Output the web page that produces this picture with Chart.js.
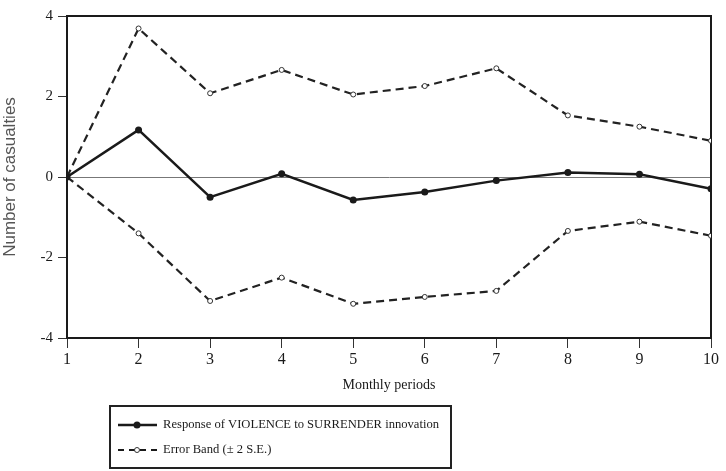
<!DOCTYPE html>
<html>
<head>
<meta charset="utf-8">
<script src="https://cdn.jsdelivr.net/npm/chart.js@4/dist/chart.umd.min.js"></script>
<style>
  body { margin: 0; background: #fff; }
  canvas { display: block; }
</style>
</head>
<body>
<canvas id="irf" width="726" height="471"></canvas>
<script>
// values
const periods = [1, 2, 3, 4, 5, 6, 7, 8, 9, 10];
const response = [0, 1.17, -0.50, 0.08, -0.57, -0.37, -0.09, 0.11, 0.07, -0.29];
const upperBand = [0, 3.69, 2.08, 2.66, 2.05, 2.26, 2.70, 1.53, 1.25, 0.90];
const lowerBand = [0, -1.40, -3.08, -2.50, -3.15, -2.98, -2.83, -1.34, -1.11, -1.46];
const yTicks = [-4, -2, 0, 2, 4];
const legendLabels = ['Response of VIOLENCE to SURRENDER innovation', 'Error Band (\u00b1 2 S.E.)'];

const serif = '"Liberation Serif", "Times New Roman", serif';
const ink = '#1a1a1a';
const dash = [8, 5];

function points(values) {
    return periods.map((p, i) => ({x: p, y: values[i]}));
}

const bandStyle = {
    borderColor: '#222',
    borderWidth: 2.2,
    borderDash: dash,
    pointRadius: 2.5,
    pointBackgroundColor: '#fff',
    pointBorderColor: '#333',
    pointBorderWidth: 1,
    tension: 0
};

// the boxed legend under the x axis title
const boxLegend = {
    id: 'boxLegend',
    afterDraw(chart) {
        const ctx = chart.ctx;
        const top = chart.scales.x.bottom + 8;
        const left = chart.chartArea.left + 43;
        ctx.save();
        ctx.strokeStyle = '#222';
        ctx.lineWidth = 2;
        ctx.strokeRect(left, top, 341, 62);

        ctx.font = '12.6px ' + serif;
        ctx.fillStyle = ink;
        ctx.textBaseline = 'middle';

        // solid line item
        let y = top + 19;
        ctx.strokeStyle = ink;
        ctx.lineWidth = 2.5;
        ctx.beginPath();
        ctx.moveTo(left + 8, y);
        ctx.lineTo(left + 47, y);
        ctx.stroke();
        ctx.beginPath();
        ctx.arc(left + 27, y, 3.5, 0, Math.PI * 2);
        ctx.fill();
        ctx.fillText(legendLabels[0], left + 53, y);

        // dashed band item
        y = top + 44;
        ctx.lineWidth = 2;
        ctx.setLineDash([6, 5]);
        ctx.beginPath();
        ctx.moveTo(left + 8, y);
        ctx.lineTo(left + 47, y);
        ctx.stroke();
        ctx.setLineDash([]);
        ctx.beginPath();
        ctx.arc(left + 27, y, 2.5, 0, Math.PI * 2);
        ctx.fillStyle = '#fff';
        ctx.fill();
        ctx.lineWidth = 1;
        ctx.strokeStyle = '#333';
        ctx.stroke();
        ctx.fillStyle = ink;
        ctx.fillText(legendLabels[1], left + 53, y);
        ctx.restore();
    }
};

const frame = {display: true, color: ink, width: 2};

new Chart(document.getElementById('irf'), {
    type: 'line',
    data: {
        datasets: [
            {
                label: legendLabels[0],
                data: points(response),
                borderColor: ink,
                borderWidth: 2.5,
                pointRadius: 3.5,
                pointBackgroundColor: ink,
                pointBorderWidth: 0,
                tension: 0
            },
            Object.assign({label: legendLabels[1], data: points(upperBand)}, bandStyle),
            Object.assign({label: 'lower', data: points(lowerBand)}, bandStyle)
        ]
    },
    options: {
        responsive: false,
        animation: false,
        layout: {padding: {top: 16, right: 15, bottom: 73, left: 0}},
        plugins: {
            legend: {display: false},
            tooltip: {enabled: false}
        },
        scales: {
            x: {
                type: 'linear',
                position: 'bottom',
                min: 1,
                max: 10,
                ticks: {stepSize: 1, autoSkip: false, padding: 2, color: ink, font: {family: serif, size: 16}},
                grid: {drawOnChartArea: false, tickLength: 10, color: '#333'},
                border: frame,
                title: {display: true, text: 'Monthly periods', color: ink, font: {family: serif, size: 14}},
                afterFit: s => { s.height = 60; }
            },
            y: {
                min: -4,
                max: 4,
                afterBuildTicks: s => { s.ticks = yTicks.map(v => ({value: v})); },
                ticks: {padding: 5, color: ink, font: {family: serif, size: 15}},
                grid: {
                    color: c => c.tick && c.tick.value === 0 ? '#777' : 'rgba(0,0,0,0)',
                    tickColor: '#333',
                    tickLength: 9,
                    lineWidth: 1
                },
                border: frame,
                title: {
                    display: true,
                    text: 'Number of casualties',
                    color: '#555',
                    padding: 0,
                    font: {family: '"Liberation Sans", Arial, sans-serif', size: 17}
                },
                afterFit: s => { s.width = 67; }
            },
            x2: {
                type: 'linear',
                position: 'top',
                min: 1,
                max: 10,
                ticks: {display: false},
                grid: {display: false},
                border: frame,
                afterFit: s => { s.height = 0; }
            },
            y2: {
                type: 'linear',
                position: 'right',
                min: -4,
                max: 4,
                ticks: {display: false},
                grid: {display: false},
                border: frame,
                afterFit: s => { s.width = 0; }
            }
        }
    },
    plugins: [boxLegend]
});
</script>
</body>
</html>
